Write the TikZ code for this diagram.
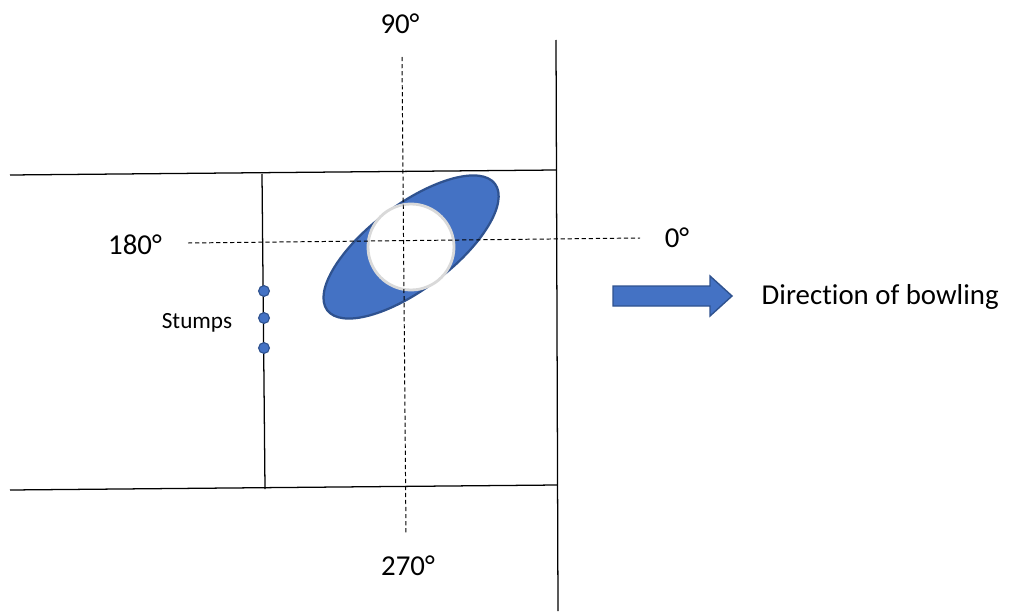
\documentclass[tikz,border=0pt]{standalone}
\usepackage{fontspec}
\setmainfont{Carlito}[Ligatures=NoCommon]
\usepackage{tikz}
\usetikzlibrary{positioning,calc}
\definecolor{ballblue}{HTML}{4472C4}
\definecolor{balledge}{HTML}{2F528F}
\definecolor{shinegray}{HTML}{D9D9D9}
\tikzset{
  crease/.style  = {draw=black, line width=0.9pt},
  dashline/.style= {draw=black, line width=0.7pt, dash pattern=on 3pt off 2pt},
  deg/.style     = {font=\fontsize{20.5}{24}\selectfont, inner sep=1pt},
  lblsm/.style   = {font=\fontsize{16.5}{20}\selectfont, inner sep=1pt},
  stump/.style   = {circle, fill=ballblue, draw=balledge, line width=0.8pt,
                    minimum size=2.7mm, inner sep=0pt},
  ball/.style    = {fill=ballblue, draw=balledge, line width=1.6pt},
  shine/.style   = {fill=white, draw=shinegray, line width=2pt},
  bowlar/.style  = {fill=ballblue, draw=balledge, line width=1pt},
}

\begin{document}
\begin{tikzpicture}[x=0.025cm, y=-0.025cm]
  \useasboundingbox (0,0) rectangle (1011,611);

  % --- pitch lines ---
  \coordinate (TL) at (10,175);
  \coordinate (TR) at (556,170);
  \coordinate (BL) at (10,490);
  \coordinate (BR) at (557,485);
  \coordinate (VT) at (556,40);
  \coordinate (VB) at (558,611);
  \coordinate (ST) at (262,174);
  \coordinate (SB) at (265,489);
  \draw[crease] (TL) -- (TR);
  \draw[crease] (BL) -- (BR);
  \draw[crease] (VT) -- (VB);
  \draw[crease] (ST) -- (SB);

  % --- the ball ---
  \coordinate (O) at (411,247);
  \path[ball, rotate around={37:(O)}] (O) ellipse [x radius=105, y radius=42];
  \path[shine] (O) circle (43);

  % --- angle axes ---
  \coordinate (N) at (402,57);
  \coordinate (S) at (406,535);
  \coordinate (W) at (188,243);
  \coordinate (E) at (640,238);
  \draw[dashline] (N) -- (S);
  \draw[dashline] (W) -- (E);

  \node[deg] (d90)  at (400,24)  {90°};
  \node[deg] (d270) at (408,566) {270°};
  \node[deg] (d180) at (135,245) {180°};
  \node[deg] (d0)   at (677,238) {0°};

  % --- stumps ---
  \node[stump] (s1) at (264,291) {};
  \node[stump] (s2) at (264,318) {};
  \node[stump] (s3) at (264,348) {};
  \node[lblsm] (stumps) at (197,323) {Stumps};

  % --- bowling direction ---
  \coordinate (A) at (613,296);
  \path[bowlar] ($(A)+(0,-10)$) -- ($(A)+(97,-10)$) -- ($(A)+(97,-20)$)
    -- ($(A)+(119,0)$) -- ($(A)+(97,20)$) -- ($(A)+(97,10)$)
    -- ($(A)+(0,10)$) -- cycle;
  \node[deg, anchor=west] (dir) at (760,297) {Direction of bowling};
\end{tikzpicture}
\end{document}
